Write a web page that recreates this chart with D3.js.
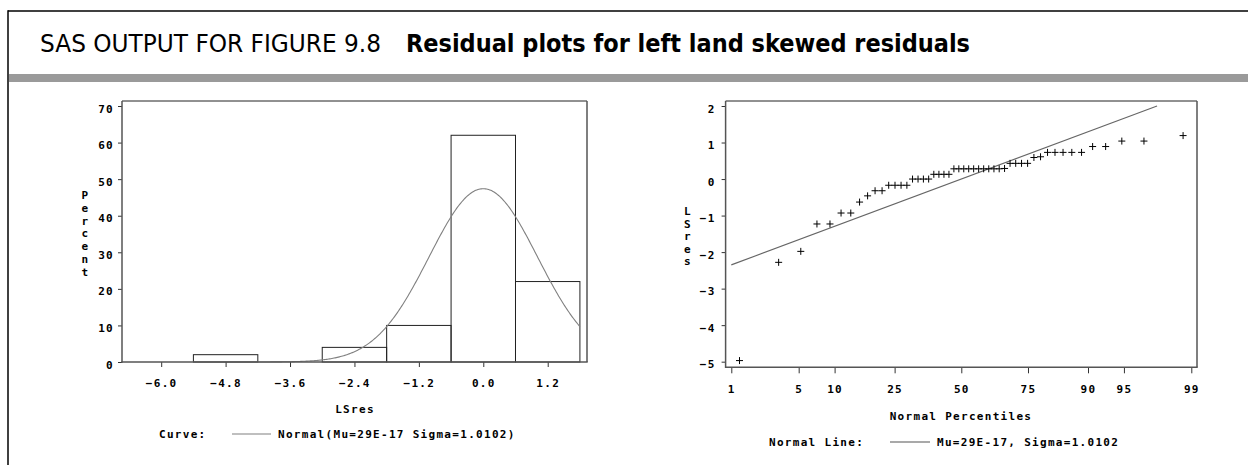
<!DOCTYPE html>
<html><head><meta charset="utf-8">
<script src="https://cdn.jsdelivr.net/npm/d3@7/dist/d3.min.js"></script>
<style>
html,body{margin:0;padding:0;background:#fff;}
svg{display:block;}
.sas{font-family:"DejaVu Sans Mono",monospace;font-weight:bold;font-size:11px;letter-spacing:1.3px;fill:#000;}
</style></head>
<body>
<svg id="chart" width="1248" height="465"></svg>
<script>
// ---------- data ----------
const titlePlain = "SAS OUTPUT FOR FIGURE 9.8";
const titleBold = "Residual plots for left land skewed residuals";
const histMids = [-4.8, -3.6, -2.4, -1.2, 0.0, 1.2];
const histPercent = [2, 0, 4, 10, 62, 22];
const histTicks = [-6.0, -4.8, -3.6, -2.4, -1.2, 0.0, 1.2];
const percentTicks = [0, 10, 20, 30, 40, 50, 60, 70];
const binWidth = 1.2;
const fitMu = 29e-17;
const fitSigma = 1.0102;
const lsres = [-4.97, -2.28, -1.98, -1.23, -1.23, -0.93, -0.93, -0.63, -0.46, -0.32, -0.32,
  -0.17, -0.17, -0.17, -0.17, 0.0, 0.0, 0.0, 0.0, 0.13, 0.13, 0.13, 0.13,
  0.28, 0.28, 0.28, 0.28, 0.28, 0.28, 0.28, 0.28, 0.28, 0.28, 0.29,
  0.43, 0.43, 0.43, 0.43, 0.59, 0.61, 0.73, 0.73, 0.73, 0.73, 0.73,
  0.89, 0.89, 1.04, 1.04, 1.19];
const pctileTicks = [1, 5, 10, 25, 50, 75, 90, 95, 99];
const resTicks = [-5, -4, -3, -2, -1, 0, 1, 2];
const histLegend = ["Curve:", "Normal(Mu=29E-17 Sigma=1.0102)"];
const qqLegend = ["Normal Line:", "Mu=29E-17, Sigma=1.0102"];

// inverse normal CDF (Acklam)
function qnorm(p){
  const a=[-3.969683028665376e+01,2.209460984245205e+02,-2.759285104469687e+02,1.383577518672690e+02,-3.066479806614716e+01,2.506628277459239e+00];
  const b=[-5.447609879822406e+01,1.615858368580409e+02,-1.556989798598866e+02,6.680131188771972e+01,-1.328068155288572e+01];
  const c=[-7.784894002430293e-03,-3.223964580411365e-01,-2.400758277161838e+00,-2.549732539343734e+00,4.374664141464968e+00,2.938163982698783e+00];
  const d=[7.784695709041462e-03,3.224671290700398e-01,2.445134137142996e+00,3.754408661907416e+00];
  const pl=0.02425, ph=1-pl; let q,r;
  if(p<pl){q=Math.sqrt(-2*Math.log(p));return (((((c[0]*q+c[1])*q+c[2])*q+c[3])*q+c[4])*q+c[5])/((((d[0]*q+d[1])*q+d[2])*q+d[3])*q+1);}
  if(p<=ph){q=p-0.5;r=q*q;return (((((a[0]*r+a[1])*r+a[2])*r+a[3])*r+a[4])*r+a[5])*q/(((((b[0]*r+b[1])*r+b[2])*r+b[3])*r+b[4])*r+1);}
  q=Math.sqrt(-2*Math.log(1-p));return -(((((c[0]*q+c[1])*q+c[2])*q+c[3])*q+c[4])*q+c[5])/((((d[0]*q+d[1])*q+d[2])*q+d[3])*q+1);
}

const svg = d3.select("#chart");
svg.append("rect").attr("width",1248).attr("height",465).attr("fill","#fff");

// ---------- frame & header ----------
svg.append("line").attr("x1",8).attr("x2",1248).attr("y1",11).attr("y2",11).attr("stroke","#000").attr("stroke-width",1.5);
svg.append("line").attr("x1",8).attr("x2",8).attr("y1",10.3).attr("y2",465).attr("stroke","#000").attr("stroke-width",1.5);
svg.append("rect").attr("x",9).attr("y",74).attr("width",1239).attr("height",8).attr("fill","#9a9a9a");
svg.append("text").attr("x",40).attr("y",52).text(titlePlain)
  .attr("font-family","'DejaVu Sans Condensed','DejaVu Sans',sans-serif").attr("font-size",24)
  .attr("textLength",341).attr("lengthAdjust","spacingAndGlyphs").attr("fill","#000");
svg.append("text").attr("x",406).attr("y",52).text(titleBold)
  .attr("font-family","'DejaVu Sans Condensed','DejaVu Sans',sans-serif").attr("font-size",24).attr("font-weight","bold")
  .attr("textLength",564).attr("lengthAdjust","spacingAndGlyphs").attr("fill","#000");

// ---------- left: histogram ----------
const hx = d3.scaleLinear().domain([-6.73, 1.932]).range([122, 587]);
const hy = d3.scaleLinear().domain([0, 71.37]).range([362, 101]);
const gH = svg.append("g");
gH.selectAll("rect.bar").data(histMids.map((m,i)=>({m, p:histPercent[i]})).filter(d=>d.p>0))
  .join("rect").attr("class","bar")
  .attr("x",d=>hx(d.m-binWidth/2)).attr("width",d=>hx(d.m+binWidth/2)-hx(d.m-binWidth/2))
  .attr("y",d=>hy(d.p)).attr("height",d=>hy(0)-hy(d.p))
  .attr("fill","none").attr("stroke","#222").attr("stroke-width",1);
// fitted normal curve
const curveX = d3.range(-5.4, 1.8001, 0.02);
const pdf = x => Math.exp(-0.5*((x-fitMu)/fitSigma)**2)/(fitSigma*Math.sqrt(2*Math.PI));
gH.append("path").datum(curveX)
  .attr("d", d3.line().x(x=>hx(x)).y(x=>hy(100*binWidth*pdf(x))))
  .attr("fill","none").attr("stroke","#808080").attr("stroke-width",1.1);
// frame
gH.append("line").attr("x1",122).attr("x2",587).attr("y1",101).attr("y2",101).attr("stroke","#222");
gH.append("line").attr("x1",587).attr("x2",587).attr("y1",101).attr("y2",362).attr("stroke","#555").attr("stroke-width",1.5);
// axes
const hyAxis = gH.append("g").attr("transform","translate(122,0)")
  .call(d3.axisLeft(hy).tickValues(percentTicks).tickSize(4).tickPadding(4).tickFormat(d3.format("d")));
const hxAxis = gH.append("g").attr("transform","translate(0,362)")
  .call(d3.axisBottom(hx).tickValues(histTicks).tickSize(5).tickPadding(12).tickFormat(d3.format(".1f")));
[hyAxis,hxAxis].forEach(a=>{a.select(".domain").remove();a.selectAll("line").attr("stroke","#333");
  a.selectAll("text").attr("class","sas").attr("font-family",null).attr("font-size",null);});
hyAxis.selectAll("text").attr("dy","0.55em");
gH.append("line").attr("x1",122).attr("x2",122).attr("y1",101).attr("y2",362.7).attr("stroke","#555").attr("stroke-width",1.5);
gH.append("line").attr("x1",121.3).attr("x2",587.7).attr("y1",362).attr("y2",362).attr("stroke","#555").attr("stroke-width",1.5);
// labels
gH.append("text").attr("class","sas").attr("x",355).attr("y",413).attr("text-anchor","middle").text("LSres");
"Percent".split("").forEach((ch,i)=>gH.append("text").attr("class","sas").attr("x",85.5).attr("y",199+i*12.8).attr("text-anchor","middle").text(ch));
gH.append("text").attr("class","sas").attr("x",159).attr("y",438).text(histLegend[0]);
gH.append("line").attr("x1",232).attr("x2",271).attr("y1",434).attr("y2",434).attr("stroke","#808080").attr("stroke-width",1.2);
gH.append("text").attr("class","sas").attr("x",278).attr("y",438).text(histLegend[1]);

// ---------- right: normal Q-Q ----------
const qx = d3.scaleLinear().domain([-2.384, 2.384]).range([725.6, 1197]);
const qy = d3.scaleLinear().domain([-5.154, 2.137]).range([367.3, 101]);
const gQ = svg.append("g");
gQ.append("line").attr("x1",725.6).attr("x2",1197).attr("y1",101).attr("y2",101).attr("stroke","#222");
gQ.append("line").attr("x1",1197).attr("x2",1197).attr("y1",101).attr("y2",367.3).attr("stroke","#555").attr("stroke-width",1.5);
const qyAxis = gQ.append("g").attr("transform","translate(725.6,0)")
  .call(d3.axisLeft(qy).tickValues(resTicks).tickSize(4).tickPadding(6).tickFormat(d3.format("d")));
const qxAxis = gQ.append("g").attr("transform","translate(0,367.3)")
  .call(d3.axisBottom(qx).tickValues(pctileTicks.map(p=>qnorm(p/100))).tickSize(6).tickPadding(12)
     .tickFormat((d,i)=>String(pctileTicks[i])));
[qyAxis,qxAxis].forEach(a=>{a.select(".domain").remove();a.selectAll("line").attr("stroke","#333");
  a.selectAll("text").attr("class","sas").attr("font-family",null).attr("font-size",null);});
qyAxis.selectAll("text").attr("dy","0.55em");
gQ.append("line").attr("x1",725.6).attr("x2",725.6).attr("y1",101).attr("y2",368).attr("stroke","#555").attr("stroke-width",1.5);
gQ.append("line").attr("x1",725).attr("x2",1197.7).attr("y1",367.3).attr("y2",367.3).attr("stroke","#555").attr("stroke-width",1.5);
// reference line
const zEnds = [qnorm(0.01), (2 - fitMu)/fitSigma];
gQ.append("path").datum(zEnds)
  .attr("d", d3.line().x(z=>qx(z)).y(z=>qy(fitMu+fitSigma*z)))
  .attr("stroke","#666").attr("stroke-width",1.1).attr("fill","none");
// points (Blom plotting positions)
const n = lsres.length;
const pts = lsres.map((v,i)=>({z:qnorm((i+1-0.375)/(n+0.25)), v}));
gQ.selectAll("path.pt").data(pts).join("path").attr("class","pt")
  .attr("d", d=>`M${qx(d.z)-3.5},${qy(d.v)}h7M${qx(d.z)},${qy(d.v)-3.5}v7`)
  .attr("stroke","#000").attr("stroke-width",1).attr("fill","none");
// labels
gQ.append("text").attr("class","sas").attr("x",961).attr("y",419.5).attr("text-anchor","middle").text("Normal Percentiles");
"LSres".split("").forEach((ch,i)=>gQ.append("text").attr("class","sas").attr("x",688).attr("y",215+i*12.6).attr("text-anchor","middle").text(ch));
gQ.append("text").attr("class","sas").attr("x",769).attr("y",446).text(qqLegend[0]);
gQ.append("line").attr("x1",890).attr("x2",930).attr("y1",442).attr("y2",442).attr("stroke","#555").attr("stroke-width",1.2);
gQ.append("text").attr("class","sas").attr("x",937).attr("y",446).text(qqLegend[1]);
</script>
</body></html>
